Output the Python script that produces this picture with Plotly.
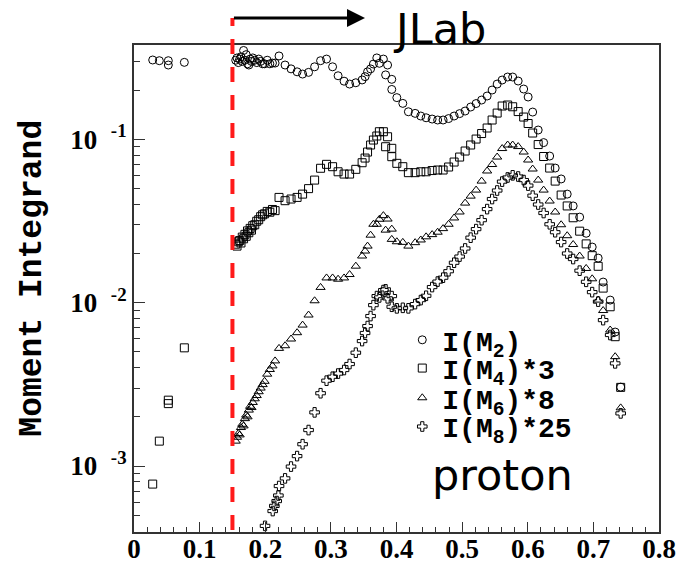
import plotly.graph_objects as go

# ---------------- data ----------------
# low-x (pre-JLab) points, only M2 and M4 visible
x_slac = [0.0285, 0.0386, 0.0523, 0.0523, 0.0767]
m2_slac = [0.306, 0.303, 0.303, 0.285, 0.296]
m4_slac = [0.000775, 0.00142, 0.00253, 0.00241, 0.00529]

# dense JLab cluster near threshold
x_dense = [0.155, 0.157, 0.159, 0.161, 0.163, 0.165, 0.167, 0.169, 0.171, 0.173,
           0.175, 0.177, 0.179, 0.181, 0.184, 0.187, 0.190, 0.193, 0.196, 0.199,
           0.203, 0.207, 0.211, 0.215]
m2_dense = [0.305, 0.315, 0.295, 0.310, 0.320, 0.300, 0.350, 0.305, 0.330, 0.290,
            0.285, 0.310, 0.300, 0.315, 0.305, 0.295, 0.310, 0.300, 0.290, 0.290,
            0.305, 0.290, 0.293, 0.293]
m4_dense = [0.0228, 0.0222, 0.0236, 0.0240, 0.0232, 0.0252, 0.0246, 0.0262, 0.0255, 0.0275,
            0.0268, 0.0285, 0.0278, 0.0296, 0.0300, 0.0315, 0.0322, 0.0336, 0.0345, 0.0350,
            0.0362, 0.0358, 0.0372, 0.0366]
m6_dense = [0.00142, 0.00150, 0.00158, 0.00155, 0.00172, 0.00180, 0.00176, 0.00195, 0.00205, 0.00200,
            0.00220, 0.00232, 0.00228, 0.00245, 0.00258, 0.00270, 0.00285, 0.00300, 0.00315, 0.00330,
            0.00365, 0.00390, 0.00410, 0.00440]
x_m8_dense = [0.1997, 0.2114, 0.2139, 0.2175, 0.2200]
m8_dense = [0.00043, 0.00053, 0.00057, 0.00061, 0.00066]

# resolved JLab points
x_jlab = [0.2210, 0.2302, 0.2393, 0.2485, 0.2569, 0.2660, 0.2752, 0.2843, 0.2934, 0.3026,
          0.3110, 0.3201, 0.3285, 0.3380, 0.3476, 0.3521, 0.3559, 0.3605, 0.3648, 0.3700,
          0.3739, 0.3800, 0.3834, 0.3864, 0.3928, 0.3928, 0.4005, 0.4096, 0.4181, 0.4284,
          0.4370, 0.4451, 0.4543, 0.4627, 0.4710, 0.4794, 0.4878, 0.4962, 0.5046, 0.5130,
          0.5213, 0.5297, 0.5381, 0.5457, 0.5534, 0.5610, 0.5694, 0.5770, 0.5854, 0.5938,
          0.6006, 0.6075, 0.6159, 0.6242, 0.6334, 0.6418, 0.6509, 0.6601, 0.6692, 0.6791,
          0.6890, 0.6982, 0.7073, 0.7149, 0.7256, 0.7332, 0.7416]
m2_jlab = [0.324, 0.285, 0.270, 0.259, 0.251, 0.257, 0.278, 0.303, 0.310, 0.278,
           0.245, 0.227, 0.218, 0.222, 0.231, 0.242, 0.259, 0.270, 0.289, 0.315,
           0.292, 0.310, 0.248, 0.285, 0.233, 0.202, 0.180, 0.166, 0.1475, 0.1442,
           0.1389, 0.1355, 0.1331, 0.1313, 0.1313, 0.1340, 0.1389, 0.1437, 0.1490, 0.1577,
           0.1656, 0.174, 0.1842, 0.2004, 0.218, 0.2307, 0.2407, 0.2407, 0.2275, 0.2032,
           0.1816, 0.1469, 0.114, 0.0955, 0.0790, 0.0667, 0.0572, 0.0462, 0.0391, 0.0334,
           0.0266, 0.0219, 0.01875, 0.01337, 0.01037, 0.00661, 0.00304]
m4_jlab = [0.0441, 0.0421, 0.0431, 0.0441, 0.0462, 0.0499, 0.0563, 0.0665, 0.0703, 0.0680,
           0.0633, 0.0613, 0.0613, 0.0655, 0.0719, 0.0768, 0.0836, 0.0923, 0.0990, 0.1048,
           0.1113, 0.1113, 0.0901, 0.1037, 0.0881, 0.0783, 0.0713, 0.0680, 0.0625, 0.0625,
           0.0633, 0.0633, 0.0644, 0.0649, 0.0649, 0.0677, 0.0726, 0.0779, 0.0848, 0.0923,
           0.1004, 0.1085, 0.1173, 0.1313, 0.1448, 0.1599, 0.1622, 0.1583, 0.1479, 0.1369,
           0.1250, 0.1093, 0.0929, 0.0785, 0.0667, 0.0555, 0.0456, 0.0391, 0.0331, 0.0274,
           0.0229, 0.0194, 0.0167, 0.01228, 0.00944, 0.00619, 0.00303]
m6_jlab = [0.00525, 0.00545, 0.00599, 0.00655, 0.00729, 0.0084, 0.01027, 0.0124, 0.01417, 0.01417,
           0.01392, 0.01417, 0.01487, 0.01673, 0.0193, 0.0207, 0.0222, 0.0259, 0.0302, 0.0302,
           0.0324, 0.0341, 0.0278, 0.0325, 0.0282, 0.0244, 0.0236, 0.0234, 0.0222, 0.0233,
           0.0242, 0.0253, 0.0261, 0.0270, 0.0284, 0.0302, 0.0330, 0.0359, 0.0407, 0.0449,
           0.0489, 0.0555, 0.0640, 0.0701, 0.0779, 0.0878, 0.0923, 0.0923, 0.0903, 0.0836,
           0.0747, 0.0658, 0.0563, 0.0489, 0.0419, 0.0359, 0.0300, 0.0257, 0.0227, 0.0193,
           0.0162, 0.0140, 0.01037, 0.00895, 0.0068, 0.00467, 0.00227]
m8_jlab = [0.000754, 0.00084, 0.000992, 0.00115, 0.00136, 0.00166, 0.00213, 0.00279, 0.00333, 0.00352,
           0.00368, 0.00387, 0.00421, 0.00494, 0.00582, 0.00652, 0.00719, 0.00828, 0.00966, 0.01097,
           0.01077, 0.01194, 0.01206, 0.01063, 0.01097, 0.00944, 0.00923, 0.0093, 0.00923, 0.0098,
           0.01037, 0.01102, 0.01246, 0.01346, 0.01422, 0.01558, 0.01756, 0.01915, 0.02147, 0.0250,
           0.0282, 0.0320, 0.0374, 0.0431, 0.0486, 0.0551, 0.0584, 0.0602, 0.0592, 0.0563,
           0.0521, 0.0452, 0.0399, 0.0354, 0.0302, 0.0270, 0.0235, 0.0200, 0.0185, 0.0157,
           0.01342, 0.0116, 0.01015, 0.00782, 0.00634, 0.00425, 0.0021]

series_names = ["I(M<sub>2</sub>)", "I(M<sub>4</sub>)*3", "I(M<sub>6</sub>)*8", "I(M<sub>8</sub>)*25"]
y_tickvals = [0.001, 0.01, 0.1]
y_ticktext = ["10\u00a0\u00a0<sup>-3</sup>", "10\u00a0\u00a0<sup>-2</sup>", "10\u00a0\u00a0<sup>-1</sup>"]
jlab_threshold = 0.15

# ---------------- figure ----------------
series = [
    (x_slac + x_dense + x_jlab, m2_slac + m2_dense + m2_jlab, "circle-open", 8),
    (x_slac + x_dense + x_jlab, m4_slac + m4_dense + m4_jlab, "square-open", 8),
    (x_dense + x_jlab, m6_dense + m6_jlab, "triangle-up-open", 8),
    (x_m8_dense + x_jlab, m8_dense + m8_jlab, "cross-open", 8),
]
legend_ids = ["legend", "legend2", "legend3", "legend4"]
legend_y = [0.394, 0.336, 0.275, 0.216]

fig = go.Figure()
for (xs, ys, sym, sz), name, lid in zip(series, series_names, legend_ids):
    fig.add_trace(go.Scatter(
        x=xs, y=ys, mode="markers", name=name, legend=lid,
        marker=dict(symbol=sym, size=sz, color="black", line=dict(width=1, color="black")),
    ))

legend_font = dict(family="Liberation Mono", size=28, color="black", weight=700)
for lid, ly in zip(legend_ids, legend_y):
    fig.update_layout({lid: dict(x=0.511, y=ly, xanchor="left", yanchor="middle",
                                 bgcolor="rgba(0,0,0,0)", borderwidth=0, font=legend_font)})

tick_font = dict(family="Liberation Serif", size=27, color="black", weight=700)
fig.update_xaxes(
    range=[0, 0.8], tick0=0, dtick=0.1, ticks="inside", ticklen=10, tickwidth=1,
    tickcolor="#333", showline=True, linecolor="#333", linewidth=2, mirror=True,
    showgrid=False, zeroline=False, tickfont=tick_font, ticklabelstandoff=-8, automargin=False,
    minor=dict(dtick=0.02, ticks="inside", ticklen=5, tickwidth=1, tickcolor="#333", showgrid=False),
)
fig.update_yaxes(
    type="log", range=[-3.404, -0.4225], tickmode="array", tickvals=y_tickvals, ticktext=y_ticktext,
    ticks="inside", ticklen=11, tickwidth=1, tickcolor="#333", showline=True, linecolor="#333",
    linewidth=2, mirror=True, showgrid=False, zeroline=False, tickfont=tick_font,
    ticklabelstandoff=0, automargin=False,
    minor=dict(tickmode="array",
               tickvals=[k * 10.0 ** d for d in (-4, -3, -2, -1) for k in range(2, 10)],
               ticks="inside", ticklen=6, tickwidth=1, tickcolor="#333", showgrid=False),
)

fig.add_shape(type="line", xref="x", yref="paper", x0=jlab_threshold, x1=jlab_threshold,
              y0=0.004, y1=1.0554, line=dict(color="#ff1a1a", width=4, dash="15px,13px"))

fig.add_annotation(xref="x", yref="paper", x=0.352, y=1.0554, axref="x", ax=jlab_threshold,
                   ayref="pixel", ay=0, text="", showarrow=True, arrowhead=2, arrowsize=1.2,
                   arrowwidth=3, arrowcolor="black", standoff=0, startstandoff=0)
fig.add_annotation(xref="paper", yref="paper", x=0.581, y=1.032, text="JLab", showarrow=False,
                   xanchor="center", yanchor="middle",
                   font=dict(family="DejaVu Sans", size=43, color="black"))
fig.add_annotation(xref="paper", yref="paper", x=0.701, y=0.117, text="proton", showarrow=False,
                   xanchor="center", yanchor="middle",
                   font=dict(family="DejaVu Sans", size=43, color="black"))
fig.add_annotation(xref="paper", yref="paper", x=-0.194, y=0.5205, text="Moment Integrand",
                   textangle=-90, showarrow=False, xanchor="center", yanchor="middle",
                   font=dict(family="Liberation Mono", size=33, color="black", weight=700))

# the page body adds an 8px offset; margins compensate so the frame sits at 134..659 x 45..532
fig.update_layout(
    width=685, height=565, margin=dict(l=126, r=34, t=37, b=41, autoexpand=False),
    paper_bgcolor="white", plot_bgcolor="white", showlegend=True,
)
fig.write_html("out.html")
